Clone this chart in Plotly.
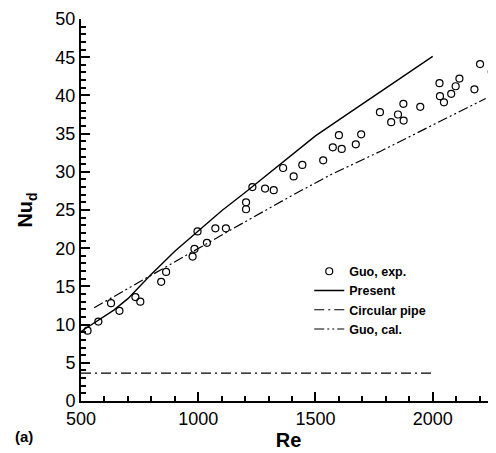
import plotly.graph_objects as go

# Guo, exp. (open circles)
exp_re = [528, 574, 628, 664, 732, 753, 842, 863, 976, 984, 997, 1037, 1073, 1118,
          1204, 1204, 1231, 1285, 1322, 1362, 1407, 1444, 1533, 1574, 1612, 1600,
          1672, 1695, 1775, 1823, 1852, 1876, 1875, 1947, 2029, 2031, 2048, 2079,
          2098, 2114, 2178, 2202, 2252, 2275]
exp_nu = [9.2, 10.4, 12.8, 11.8, 13.6, 13.0, 15.6, 16.9, 18.9, 19.9, 22.2, 20.7, 22.6, 22.6,
          26.0, 25.1, 28.0, 27.8, 27.6, 30.5, 29.4, 30.9, 31.5, 33.2, 33.0, 34.8,
          33.6, 34.9, 37.8, 36.5, 37.5, 36.7, 38.9, 38.5, 41.6, 39.9, 39.1, 40.2,
          41.2, 42.2, 40.8, 44.1, 43.1, 42.8]

# Present (solid)
present_re = [500, 560, 640, 700, 800, 900, 1000, 1100, 1200, 1300, 1400, 1500,
              1600, 1700, 1800, 1900, 2000]
present_nu = [9.1, 10.3, 11.9, 13.4, 16.6, 19.6, 22.3, 24.9, 27.3, 29.8, 32.3, 34.7,
              36.8, 38.9, 41.0, 43.1, 45.1]

# Circular pipe (dash-dot)
pipe_re = [500, 2000]
pipe_nu = [3.66, 3.66]

# Guo, cal. (dash-dot-dot)
cal_re = [556, 766, 1037, 1208, 1400, 1564, 1778, 2000, 2226]
cal_nu = [12.2, 15.9, 20.6, 23.6, 26.9, 29.6, 32.7, 36.1, 39.6]

FONT = "Liberation Sans, Arial, Helvetica, sans-serif"

fig = go.Figure()
fig.add_trace(go.Scatter(x=exp_re, y=exp_nu, mode="markers", name="Guo, exp.",
                         marker=dict(symbol="circle-open", size=7, color="black",
                                     line=dict(width=1.2, color="black"))))
fig.add_trace(go.Scatter(x=present_re, y=present_nu, mode="lines", name="Present",
                         line=dict(color="black", width=1.4)))
fig.add_trace(go.Scatter(x=pipe_re, y=pipe_nu, mode="lines", name="Circular pipe",
                         line=dict(color="black", width=1.2, dash="10px,4px,2px,4px")))
fig.add_trace(go.Scatter(x=cal_re, y=cal_nu, mode="lines", name="Guo, cal.",
                         line=dict(color="black", width=1.2,
                                   dash="10px,3px,2px,3px,2px,3px")))

fig.update_layout(
    width=488, height=445,
    margin=dict(l=73, r=0, t=11, b=52),
    paper_bgcolor="white", plot_bgcolor="white",
    font=dict(family=FONT, color="black", size=18),
    showlegend=True,
    legend=dict(x=0.55, y=0.378, xanchor="left", yanchor="top",
                bgcolor="rgba(0,0,0,0)", tracegroupgap=0,
                font=dict(family=FONT, size=12.5, weight="bold", color="black")),
    xaxis=dict(range=[500, 2270], showgrid=False, zeroline=False,
               showline=True, linecolor="black", linewidth=2,
               ticks="inside", ticklen=9, tickwidth=2, tickcolor="black",
               tickvals=[500, 1000, 1500, 2000],
               minor=dict(dtick=100, tick0=500, ticks="inside", ticklen=5,
                          tickwidth=1.5, tickcolor="black", showgrid=False),
               tickfont=dict(size=18),
               title=dict(text="Re", standoff=3,
                          font=dict(size=20, weight="bold"))),
    yaxis=dict(range=[0, 50], showgrid=False, zeroline=False,
               showline=True, linecolor="black", linewidth=2,
               ticks="inside", ticklen=9, tickwidth=2, tickcolor="black",
               dtick=5, tick0=0,
               minor=dict(dtick=1, ticks="inside", ticklen=5,
                          tickwidth=1.5, tickcolor="black", showgrid=False),
               tickfont=dict(size=18),
               title=dict(text="Nu<sub>d</sub>", standoff=17,
                          font=dict(size=20, weight="bold"))),
    annotations=[dict(text="(a)", xref="paper", yref="paper", x=-0.165, y=-0.094,
                      xanchor="left", yanchor="middle", showarrow=False,
                      font=dict(size=15, weight="bold", family=FONT))],
)

fig.write_html("out.html")
